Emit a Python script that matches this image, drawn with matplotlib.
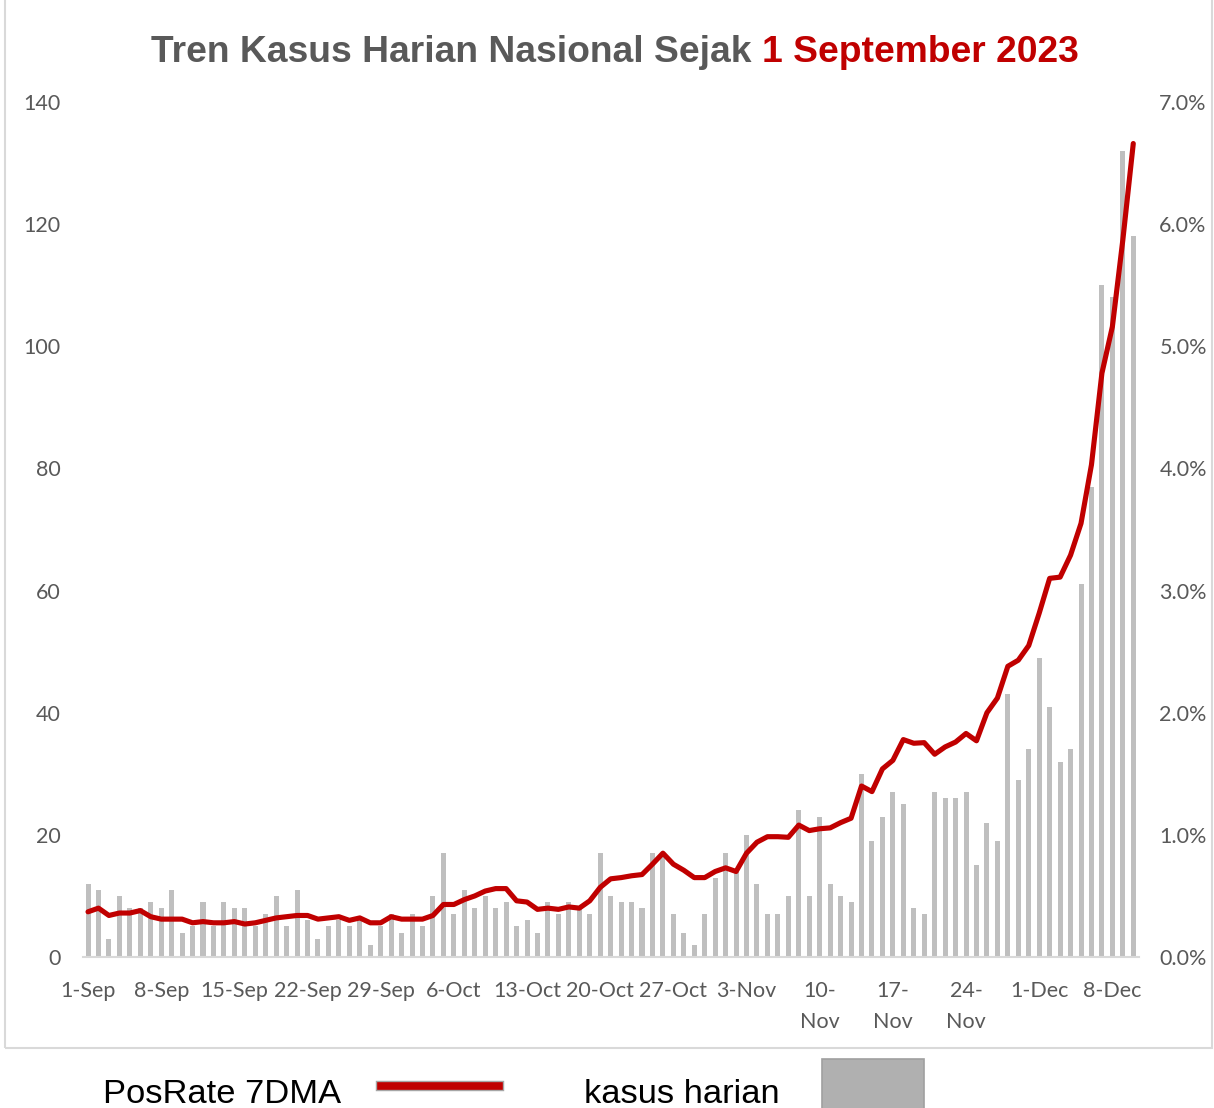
import numpy as np
import matplotlib.pyplot as plt
from matplotlib.patches import Rectangle
from matplotlib.lines import Line2D
import matplotlib.patheffects as pe

# daily cases (kasus harian), 1 Sep - 10 Dec 2023
cases = [12, 11, 3, 10, 8, 8, 9, 8, 11, 4, 5, 9, 5, 9, 8, 8, 5, 7, 10, 5,
         11, 6, 3, 5, 6, 5, 6,
         2, 5, 7, 4, 7, 5, 10, 17, 7, 11, 8, 10, 8, 9, 5, 6, 4, 9, 7, 9,
         8, 7, 17, 10, 9, 9, 8,
         17, 17, 7, 4, 2, 7, 13, 17, 14, 20, 12, 7, 7, 10, 24, 10, 23, 12,
         10, 9, 30, 19, 23, 27, 25, 8,
         7, 27, 26, 26, 27, 15, 22, 19, 43, 29, 34, 49, 41, 32, 34, 61,
         77, 110, 108, 132, 118]

# positivity rate 7DMA (%)
posrate = [0.37, 0.40, 0.34, 0.36, 0.36, 0.38, 0.33, 0.31, 0.31, 0.31,
           0.28, 0.29, 0.28, 0.28, 0.29, 0.27, 0.28, 0.30, 0.32, 0.33,
           0.34, 0.34, 0.31, 0.32, 0.33, 0.30, 0.32,
           0.28, 0.28, 0.33, 0.31, 0.31, 0.31, 0.34, 0.43, 0.43, 0.47,
           0.50, 0.54, 0.56, 0.56, 0.46, 0.45, 0.39, 0.40, 0.39, 0.41,
           0.40, 0.46, 0.57, 0.64, 0.65, 0.665, 0.675,
           0.76, 0.85, 0.76, 0.71, 0.65, 0.65, 0.70, 0.73, 0.70, 0.85,
           0.94, 0.985, 0.985, 0.98, 1.08, 1.035, 1.05, 1.057, 1.10, 1.136,
           1.40, 1.354, 1.54, 1.61, 1.78, 1.75,
           1.755, 1.66, 1.72, 1.76, 1.83, 1.77, 2.00, 2.12, 2.38, 2.43,
           2.55, 2.815, 3.10, 3.11, 3.29, 3.55, 4.03, 4.78, 5.16, 5.87, 6.66]

tick_pos = list(range(0, 101, 7))
tick_labels = ['1-Sep', '8-Sep', '15-Sep', '22-Sep', '29-Sep', '6-Oct',
               '13-Oct', '20-Oct', '27-Oct', '3-Nov', '10-\nNov', '17-\nNov',
               '24-\nNov', '1-Dec', '8-Dec']
left_ticks = [0, 20, 40, 60, 80, 100, 120, 140]
right_ticks = [0, 1, 2, 3, 4, 5, 6, 7]

W, H = 1214, 1108
fig = plt.figure(figsize=(W / 100, H / 100), dpi=100)
fig.set_facecolor('white')

# outer chart border (top edge sits above the image)
border = Rectangle((5 / W, (H - 1048) / H), 1207 / W, 1048 / H + 0.01,
                   transform=fig.transFigure, fill=False, edgecolor='#D9D9D9', lw=1.5)
fig.patches.append(border)

ax = fig.add_axes([82.8 / W, (H - 957) / H, (1138.5 - 82.8) / W, (957 - 102) / H])
ax2 = ax.twinx()

x = np.arange(len(cases))
ax.bar(x, cases, width=0.48, color='#BFBFBF', zorder=2)
ax2.plot(x, posrate, color='#C00000', lw=3.7, solid_joinstyle='round',
         solid_capstyle='round', zorder=3)

ax.set_xlim(-0.5, len(cases) - 0.5)
ax.set_ylim(0, 140)
ax2.set_ylim(0, 7)

grey = '#595959'
tick_font = dict(family='Lato', size=15.5)
ax.set_yticks(left_ticks)
ax.set_yticklabels([str(v) for v in left_ticks], color=grey, **tick_font)
ax2.set_yticks(right_ticks)
ax2.set_yticklabels(['%.1f%%' % v for v in right_ticks], color=grey, **tick_font)
ax.set_xticks(tick_pos)
ax.set_xticklabels(tick_labels, color=grey, linespacing=1.7, **tick_font)
ax.tick_params(axis='y', length=0, pad=16)
ax2.tick_params(axis='y', length=0, pad=15)
ax.tick_params(axis='x', length=0, pad=17)

for a in (ax, ax2):
    for s in ('top', 'left', 'right'):
        a.spines[s].set_visible(False)
    a.patch.set_visible(False)
ax.spines['bottom'].set_color('#D9D9D9')
ax.spines['bottom'].set_linewidth(1.5)
ax2.spines['bottom'].set_visible(False)

# title in two colours
ty = 1 - 62 / H
t1 = fig.text(0, ty, 'Tren Kasus Harian Nasional Sejak', color=grey,
              family='Liberation Sans', weight='bold', size=26.8, va='baseline')
t2 = fig.text(0, ty, '1 September 2023', color='#C00000',
              family='Liberation Sans', weight='bold', size=26.8, va='baseline')
fig.canvas.draw()
r = fig.canvas.get_renderer()
w1 = t1.get_window_extent(r).width
w2 = t2.get_window_extent(r).width
gap = 0.278 * 26.8 * 100 / 72
start = 615 - (w1 + gap + w2) / 2
t1.set_x(start / W)
t2.set_x((start + w1 + gap) / W)

# legend below the chart
leg_y = 1 - 1103 / H
fig.text(103 / W, leg_y, 'PosRate 7DMA', family='Liberation Sans', size=24.8,
         color='black', va='baseline')
fig.lines.append(Line2D([381 / W, 499 / W], [1 - 1086 / H] * 2, transform=fig.transFigure,
                        color='#C00000', lw=5.5,
                        path_effects=[pe.Stroke(linewidth=7.5, foreground='#A6A6A6'), pe.Normal()]))
fig.text(584 / W, leg_y, 'kasus harian', family='Liberation Sans', size=24.8,
         color='black', va='baseline')
fig.patches.append(Rectangle((822 / W, -0.01), 102 / W, (1108 - 1059) / H + 0.01,
                             transform=fig.transFigure, facecolor='#B0B0B0',
                             edgecolor='#A0A0A0', lw=1.2))

fig.savefig('out.png', dpi=100)
